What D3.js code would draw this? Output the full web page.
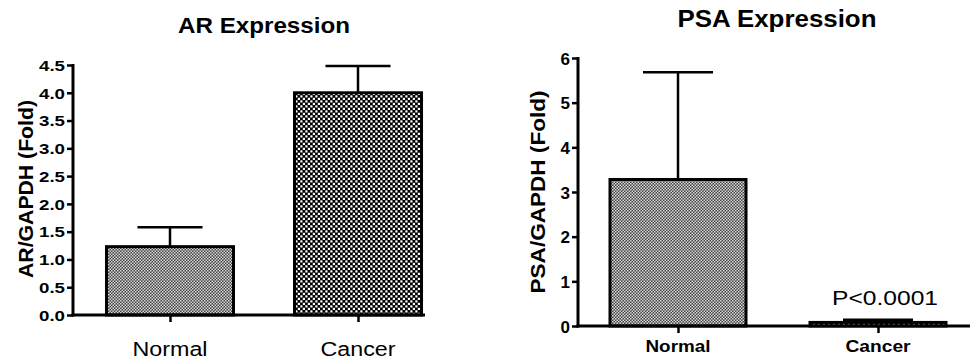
<!DOCTYPE html>
<html><head><meta charset="utf-8">
<script src="https://cdn.jsdelivr.net/npm/d3@7"></script>
<style>html,body{margin:0;padding:0;background:#fff;}svg{display:block;}</style>
</head><body>
<svg id="c" width="970" height="364"></svg>
<script>
const categories = ["Normal", "Cancer"];
const arValues = [1.23, 4.0];
const arErrTop = [1.58, 4.48];
const arTicks = [0, 0.5, 1.0, 1.5, 2.0, 2.5, 3.0, 3.5, 4.0, 4.5];
const psaValues = [3.28, 0.08];
const psaErrTop = [5.68, 0.14];
const psaTicks = [0, 1, 2, 3, 4, 5, 6];

const svg = d3.select("#c");
const defs = svg.append("defs");
// fine gray checker
const pf = defs.append("pattern").attr("id","fine").attr("patternUnits","userSpaceOnUse").attr("width",3).attr("height",3);
pf.append("rect").attr("width",3).attr("height",3).attr("fill","#444");
pf.append("rect").attr("width",1.5).attr("height",1.5).attr("fill","#d8d8d8");
pf.append("rect").attr("x",1.5).attr("y",1.5).attr("width",1.5).attr("height",1.5).attr("fill","#d8d8d8");
// coarse checker
const pc = defs.append("pattern").attr("id","coarse").attr("patternUnits","userSpaceOnUse").attr("width",5).attr("height",5);
pc.append("rect").attr("width",5).attr("height",5).attr("fill","#000");
pc.append("rect").attr("x",0.3).attr("y",0.3).attr("width",2.2).attr("height",2.2).attr("fill","#fff");
pc.append("rect").attr("x",2.8).attr("y",2.8).attr("width",2.2).attr("height",2.2).attr("fill","#fff");

const fills = ["url(#fine)", "url(#coarse)"];
const FONT = "Liberation Sans, Arial, sans-serif";

function txt(g, s, x, y, opts) {
  const t = g.append("text").attr("x", x).attr("y", y).text(s)
    .attr("font-family", FONT).attr("font-size", opts.size)
    .attr("font-weight", opts.bold ? "bold" : "normal")
    .attr("text-anchor", opts.anchor || "middle").attr("fill", "#000");
  if (opts.len) t.attr("textLength", opts.len).attr("lengthAdjust", "spacingAndGlyphs");
  if (opts.rotate) t.attr("transform", `rotate(-90,${x},${y})`);
  return t;
}

function chart(cfg) {
  const g = svg.append("g");
  const y = d3.scaleLinear().domain(cfg.domain).range([cfg.y0, cfg.y1]);
  const x = d3.scalePoint().domain(categories).range(cfg.xr);
  const bw = cfg.bw;
  categories.forEach((c, i) => {
    const cx = x(c);
    g.append("line").attr("x1", cx).attr("x2", cx).attr("y1", y(cfg.values[i])).attr("y2", y(cfg.err[i]))
      .attr("stroke", "#000").attr("stroke-width", 2.5);
    g.append("line").attr("x1", cx - cfg.cap/2).attr("x2", cx + cfg.cap/2).attr("y1", y(cfg.err[i])).attr("y2", y(cfg.err[i]))
      .attr("stroke", "#000").attr("stroke-width", 2.5);
    g.append("rect").attr("x", cx - bw/2).attr("y", y(cfg.values[i])).attr("width", bw)
      .attr("height", y(0) - y(cfg.values[i])).attr("fill", fills[i]).attr("stroke", "#000").attr("stroke-width", 3);
  });
  const ya = d3.axisLeft(y).tickValues(cfg.ticks).tickFormat(cfg.fmt).tickSize(6).tickSizeOuter(0);
  const yg = g.append("g").attr("transform", `translate(${cfg.ax},0)`).call(ya);
  yg.select(".domain").attr("stroke-width", 3).attr("d", `M0,${cfg.y0 + 1.5}V${cfg.y1 - 1}`);
  yg.selectAll(".tick line").attr("stroke-width", 2.5);
  yg.selectAll(".tick text").attr("font-family", FONT).attr("font-weight", "bold")
    .attr("font-size", cfg.tickSize).attr("x", -8).attr("dy", "0.36em")
    .each(function() { if (cfg.tickLen) d3.select(this).attr("textLength", cfg.tickLen).attr("lengthAdjust","spacingAndGlyphs"); });
  const xa = d3.axisBottom(x).tickSize(7).tickSizeOuter(0).tickFormat("");
  const xg = g.append("g").attr("transform", `translate(0,${cfg.y0})`).call(xa);
  xg.select(".domain").attr("stroke-width", 3).attr("d", `M${cfg.ax - 1.5},0H${cfg.axEnd}`);
  xg.selectAll(".tick line").attr("stroke-width", 2.5);
  categories.forEach((c, i) => {
    txt(g, c, x(c), cfg.xlY, { size: cfg.xlSize, bold: cfg.xlBold, len: cfg.xlLen[i] });
  });
  txt(g, cfg.title, cfg.titleX, cfg.titleY, { size: cfg.titleSize, bold: true, len: cfg.titleLen });
  txt(g, cfg.ylabel, cfg.ylX, cfg.ylY, { size: cfg.ylSize, bold: true, rotate: true, len: cfg.ylLen });
  return { g, x, y };
}

chart({
  domain: [0, 4.5], y0: 315, y1: 65, xr: [170, 358], bw: 127, cap: 65,
  values: arValues, err: arErrTop, ticks: arTicks, fmt: d3.format(".1f"),
  ax: 73, axEnd: 425, tickSize: 14.5, tickLen: 26,
  xlY: 356, xlSize: 20, xlBold: false, xlLen: [75, 75],
  title: "AR Expression", titleX: 264, titleY: 33, titleSize: 21.5, titleLen: 172,
  ylabel: "AR/GAPDH (Fold)", ylX: 33, ylY: 189, ylSize: 19.5, ylLen: 178
});

const psa = chart({
  domain: [0, 6], y0: 326, y1: 58, xr: [678, 878], bw: 136, cap: 70,
  values: psaValues, err: psaErrTop, ticks: psaTicks, fmt: d3.format("d"),
  ax: 578, axEnd: 970, tickSize: 17, tickLen: null,
  xlY: 352, xlSize: 17, xlBold: true, xlLen: [65, 65],
  title: "PSA Expression", titleX: 777, titleY: 27, titleSize: 23, titleLen: 199,
  ylabel: "PSA/GAPDH (Fold)", ylX: 545, ylY: 192, ylSize: 20, ylLen: 203
});

txt(psa.g, "P<0.0001", psa.x("Cancer") + 7, 305, { size: 21, bold: false, len: 106 });
</script>
</body></html>
